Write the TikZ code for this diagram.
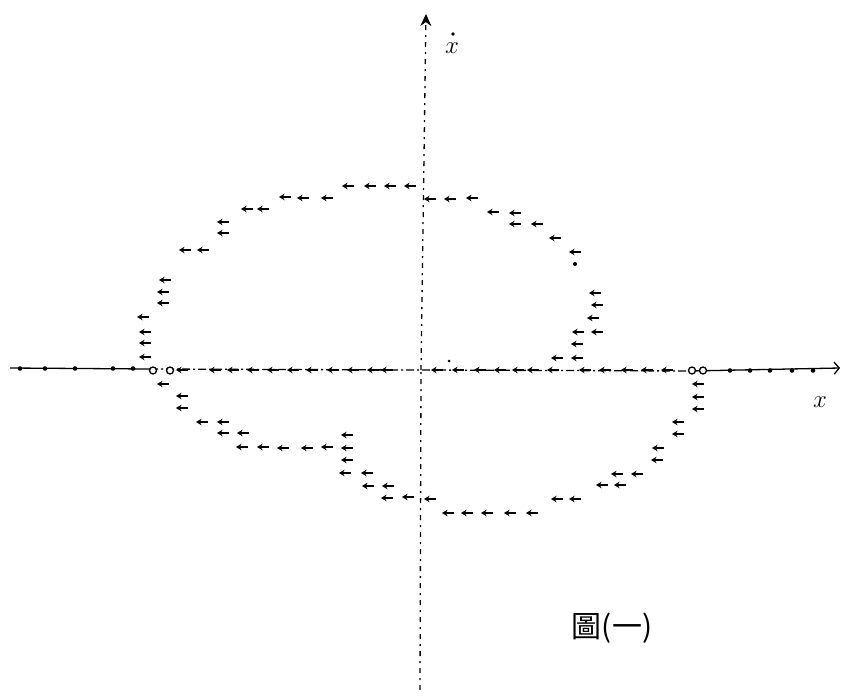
\documentclass[tikz,border=0pt]{standalone}
\usepackage{fontspec}
\newfontfamily\cjkfont{Noto Sans CJK TC}
\usetikzlibrary{arrows.meta}
\tikzset{
  mk/.style={line width=1.7pt,-{Stealth[length=5.5pt,width=6.5pt]}},
  axisline/.style={line width=1.3pt},
  dashdot/.style={line width=1.3pt,dash pattern=on 8pt off 3pt on 2pt off 3pt},
  dotaxis/.style={line width=1.3pt,dash pattern=on 5pt off 5pt on 2pt off 5pt},
  ring/.style={line width=1.3pt,fill=white},
  lab/.style={font=\fontsize{30}{32}\selectfont, inner sep=0pt}
}
\begin{document}
\begin{tikzpicture}[x=1pt,y=-1pt]
\useasboundingbox (0,0) rectangle (842,695);
\fill[white] (0,0) rectangle (842,695);
% axes
\coordinate (ybot) at (420,690);
\coordinate (ymid) at (421,370);
\coordinate (ytop) at (426,14);
\draw[dotaxis] (ybot) -- (ymid);
\draw[dotaxis,-{Stealth[length=12pt,width=11pt]}] (ymid) -- (ytop);
\coordinate (xl) at (10,368);
\coordinate (xa) at (150,369);
\coordinate (xb) at (420,370);
\coordinate (xc) at (690,371);
\coordinate (xr) at (840,368);
\draw[axisline] (xl) -- (xa);
\draw[dashdot] (xa) -- (xb) -- (xc);
\draw[axisline,-{Straight Barb[length=5pt,width=12pt]}] (xc) -- (xr);
% marks on horizontal axis
\foreach \x in {20,45,75,113,133} \fill (\x,368.5) circle (2.3);
\foreach \x in {182,215,233,253,273,293,312,333,353,373,387,437,458,480,500,518,533,553,585,605,627,647,667}
  \draw[mk] (\x+6,370) -- (\x-6,370);
\foreach \x in {730,750,770,792,813} \fill (\x,370.5) circle (2.3);
% rings
\foreach \x in {153,170,692,703} \draw[ring] (\x,370.5) circle (3.5);
% upper left arc
\foreach \x/\y in {145/357,145/343,145/332,143/317,163/303,163/292,165/280,185/250,203/250,
  223/233,223/222,247/209,263/209,285/197,303/198,327/198,348/186,370/186,390/186,410/186}
  \draw[mk] (\x+6,\y) -- (\x-6,\y);
% upper right arc
\foreach \x/\y in {430/199,450/199,472/198,493/212,515/213,515/224,537/224,555/238,575/252,
  595/293,597/305,593/318,578/332,597/332,577/344,557/358,577/358}
  \draw[mk] (\x+6,\y) -- (\x-6,\y);
\fill (575,264) circle (2);
\fill (449,361) circle (1.5);
% lower left arc
\foreach \x/\y in {163/384,182/396,182/408,202/422,223/422,223/433,243/433,
  242/447,263/447,283/448,307/448,327/447,347/448,347/435,347/460,345/473,367/473,
  368/486,388/486,387/498,408/497,430/499}
  \draw[mk] (\x+6,\y) -- (\x-6,\y);
% lower right arc
\foreach \x/\y in {448/513,467/513,487/513,510/513,532/513,557/499,575/499,602/485,620/485,
  617/474,637/474,657/460,658/448,678/434,678/422,698/409,698/397,698/384}
  \draw[mk] (\x+6,\y) -- (\x-6,\y);
% labels
\node[lab] (ydot) at (452,48) {$x$};
\fill (453,34) circle (1.8);
\node[lab] (xlab) at (820,402) {$x$};
\node[inner sep=0pt,font=\fontsize{30}{32}\selectfont\cjkfont] (fig) at (612,628) {圖(一)};
\end{tikzpicture}
\end{document}
